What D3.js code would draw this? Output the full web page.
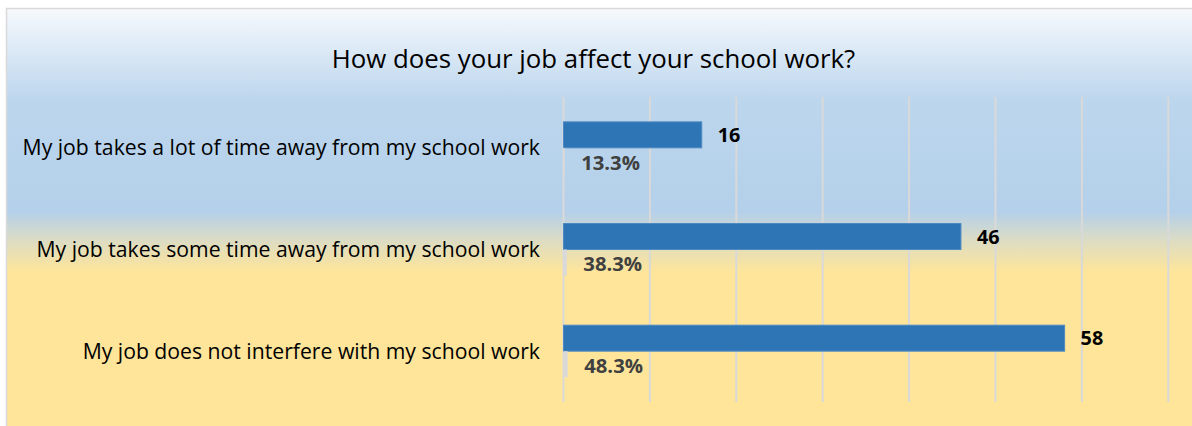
<!DOCTYPE html>
<html>
<head>
<meta charset="utf-8">
<script src="https://cdn.jsdelivr.net/npm/d3@7"></script>
<style>
  html, body { margin: 0; padding: 0; background: #ffffff; }
  svg { display: block; }
</style>
</head>
<body>
<svg id="chart" width="1192" height="426"></svg>
<script>
const title = "How does your job affect your school work?";
const categories = [
  "My job takes a lot of time away from my school work",
  "My job takes some time away from my school work",
  "My job does not interfere with my school work"
];
const counts = [16, 46, 58];
const percents = [0.133, 0.383, 0.483];
const percentLabels = ["13.3%", "38.3%", "48.3%"];
const gridTicks = [0, 10, 20, 30, 40, 50, 60, 70];

const W = 1192, H = 426;
const svg = d3.select("#chart");
const font = "'Open Sans', 'Noto Sans', sans-serif";

// background gradient
const defs = svg.append("defs");
const grad = defs.append("linearGradient")
  .attr("id", "bg").attr("gradientUnits", "userSpaceOnUse")
  .attr("x1", 0).attr("y1", 9).attr("x2", 0).attr("y2", 426);
[[9, "#f6f9fd"], [100, "#bcd6ed"], [212, "#b4d0ea"], [240, "#dcdcc4"], [272, "#fee59a"], [426, "#fee599"]]
  .forEach(([y, c]) => grad.append("stop").attr("offset", ((y - 9) / (426 - 9))).attr("stop-color", c));

svg.append("rect").attr("x", 6.5).attr("y", 8.5).attr("width", W).attr("height", H)
  .attr("fill", "url(#bg)").attr("stroke", "#d9d9d9").attr("stroke-width", 1.5);

// scales
const x = d3.scaleLinear().domain([0, 70]).range([563.5, 1168.3]);
const y = d3.scaleBand().domain(categories).range([97, 402]).paddingInner(0.489).paddingOuter(0.2445);
const sub = d3.scaleBand().domain(["count", "pct"]).range([0, y.bandwidth()]);

// gridlines
svg.append("g").selectAll("line").data(gridTicks).join("line")
  .attr("x1", d => x(d)).attr("x2", d => x(d))
  .attr("y1", 97).attr("y2", 402)
  .attr("stroke", "#d9d9d9").attr("stroke-width", 2);

// title
svg.append("text").attr("x", 593.5).attr("y", 68).attr("text-anchor", "middle")
  .attr("font-family", font).attr("font-size", 25.8).attr("fill", "#000")
  .text(title);

// category labels
svg.append("g").selectAll("text").data(categories).join("text")
  .attr("x", 540).attr("y", d => y(d) + y.bandwidth() / 2)
  .attr("dy", "0.35em").attr("text-anchor", "end")
  .attr("font-family", font).attr("font-size", 21.2).attr("fill", "#000")
  .text(d => d);

// count bars
svg.append("g").selectAll("rect").data(categories).join("rect")
  .attr("x", x(0)).attr("y", d => y(d) + sub("count"))
  .attr("width", (d, i) => x(counts[i]) - x(0)).attr("height", sub.bandwidth())
  .attr("fill", "#2e75b6").attr("stroke", "#4f89c2").attr("stroke-width", 1);

// percent bars (tiny)
svg.append("g").selectAll("rect").data(categories).join("rect")
  .attr("x", x(0)).attr("y", d => y(d) + sub("pct"))
  .attr("width", (d, i) => x(percents[i]) - x(0)).attr("height", sub.bandwidth())
  .attr("fill", "#d9d9d9");

// count labels
svg.append("g").selectAll("text").data(categories).join("text")
  .attr("x", (d, i) => x(counts[i]) + 16).attr("y", d => y(d) + sub("count") + sub.bandwidth() / 2)
  .attr("dy", "0.36em")
  .attr("font-family", font).attr("font-size", 19.8).attr("font-weight", "bold").attr("fill", "#000")
  .text((d, i) => counts[i]);

// percent labels
svg.append("g").selectAll("text").data(categories).join("text")
  .attr("x", (d, i) => x(percents[i]) + 16.5).attr("y", d => y(d) + sub("pct") + sub.bandwidth() / 2 + 1.5)
  .attr("dy", "0.36em")
  .attr("font-family", font).attr("font-size", 20.3).attr("font-weight", "bold").attr("fill", "#404040")
  .text((d, i) => percentLabels[i]);
</script>
</body>
</html>
